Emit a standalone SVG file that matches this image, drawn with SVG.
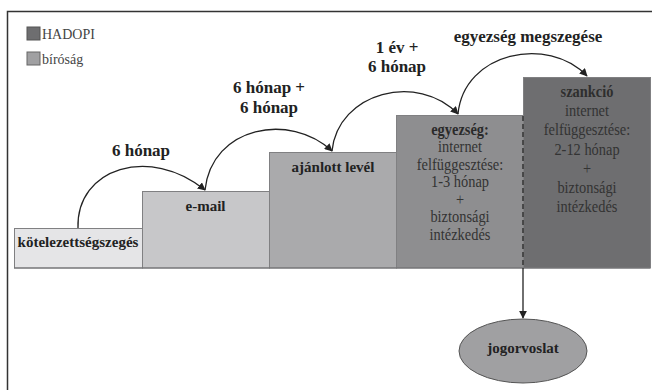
<svg xmlns="http://www.w3.org/2000/svg" width="652" height="390" viewBox="0 0 652 390">
<style>
.lbl{font-family:"Liberation Serif","Times New Roman",serif;font-weight:bold;fill:#222;text-anchor:middle}
.body{font-family:"Liberation Serif","Times New Roman",serif;font-size:16px;fill:#333;text-anchor:middle}
.leg{font-family:"Liberation Serif","Times New Roman",serif;font-size:14px;fill:#444}
.step{stroke:#808082;stroke-width:1}
.arc{fill:none;stroke:#222;stroke-width:1.3}
</style>
<defs>
<marker id="ah" viewBox="0 0 10 10" refX="9" refY="5" markerWidth="8" markerHeight="8" markerUnits="userSpaceOnUse" orient="auto">
<path d="M0,0 L10,5 L0,10 z" fill="#222"/>
</marker>
</defs>
<rect width="652" height="390" fill="#fff"/>
<path d="M7.5,400 V11.5 H652" fill="none" stroke="#333" stroke-width="1.5"/>
<g id="legend">
<rect x="27" y="27" width="13" height="13" fill="#6e6e70" stroke="#555"/>
<text class="leg" x="42" y="39">HADOPI</text>
<rect x="27" y="52" width="13" height="13" fill="#a0a0a2" stroke="#666"/>
<text class="leg" x="42" y="64">bíróság</text>
</g>
<g id="kotelezettsegszeges">
<rect class="step" x="14.5" y="228.5" width="128" height="39.5" fill="#e5e5e7"/>
<text class="lbl" x="78" y="247" font-size="15">kötelezettségszegés</text>
</g>
<g id="email">
<rect class="step" x="142.5" y="191.5" width="127" height="76.5" fill="#c7c7c9"/>
<text class="lbl" x="205.5" y="211" font-size="15">e-mail</text>
</g>
<g id="ajanlott">
<rect class="step" x="269.5" y="152.5" width="127" height="115.5" fill="#aaaaac"/>
<text class="lbl" x="333" y="172" font-size="15">ajánlott levél</text>
</g>
<g id="egyezseg">
<rect class="step" x="396.5" y="115.5" width="127" height="152.5" fill="#8e8e90"/>
<text class="body" x="460" y="135" transform="translate(460,0) scale(0.9,1) translate(-460,0)"><tspan font-weight="bold" fill="#2a2a2a">egyezség:</tspan><tspan x="460" dy="17.5">internet</tspan><tspan x="460" dy="17.5">felfüggesztése:</tspan><tspan x="460" dy="17.5">1-3 hónap</tspan><tspan x="460" dy="17.5">+</tspan><tspan x="460" dy="17.5">biztonsági</tspan><tspan x="460" dy="17.5">intézkedés</tspan></text>
</g>
<g id="szankcio">
<rect class="step" x="523.5" y="77.5" width="127" height="190.5" fill="#6e6e70" stroke="#555"/>
<text class="body" x="587" y="97" fill="#3a3a3a" transform="translate(587,0) scale(0.9,1) translate(-587,0)"><tspan font-weight="bold" fill="#2e2e2e">szankció</tspan><tspan x="587" dy="19.2">internet</tspan><tspan x="587" dy="19.2">felfüggesztése:</tspan><tspan x="587" dy="19.2">2-12 hónap</tspan><tspan x="587" dy="19.2">+</tspan><tspan x="587" dy="19.2">biztonsági</tspan><tspan x="587" dy="19.2">intézkedés</tspan></text>
</g>
<line x1="14" y1="268" x2="650" y2="268" stroke="#707072" stroke-width="1.2"/>
<g id="jogorvoslat">
<ellipse cx="523" cy="351" rx="64" ry="32" fill="#a0a0a2" stroke="#555" stroke-width="1"/>
<text class="lbl" x="523" y="353" font-size="15">jogorvoslat</text>
</g>
<g id="connectors">
<path class="arc" d="M78,228 C76,168 150,145 205,190" marker-end="url(#ah)"/>
<path class="arc" d="M205,190 C212,126 290,112 332,151" marker-end="url(#ah)"/>
<path class="arc" d="M332,151 C338,92 418,72 458,114" marker-end="url(#ah)"/>
<path class="arc" d="M458,114 C464,52 548,35 587,76" marker-end="url(#ah)"/>
<line x1="523" y1="116" x2="523" y2="268" stroke="#333" stroke-width="1.5" stroke-dasharray="5,3"/>
<line x1="523" y1="268" x2="523" y2="318" stroke="#222" stroke-width="1.3" marker-end="url(#ah)"/>
</g>
<g id="labels">
<text class="lbl" x="141" y="156" font-size="17">6 hónap</text>
<text class="lbl" x="269" y="93" font-size="17">6 hónap +</text>
<text class="lbl" x="269" y="113" font-size="17">6 hónap</text>
<text class="lbl" x="397" y="53" font-size="17">1 év +</text>
<text class="lbl" x="397" y="72" font-size="17">6 hónap</text>
<text class="lbl" x="528" y="42" font-size="17">egyezség megszegése</text>
</g>
</svg>
